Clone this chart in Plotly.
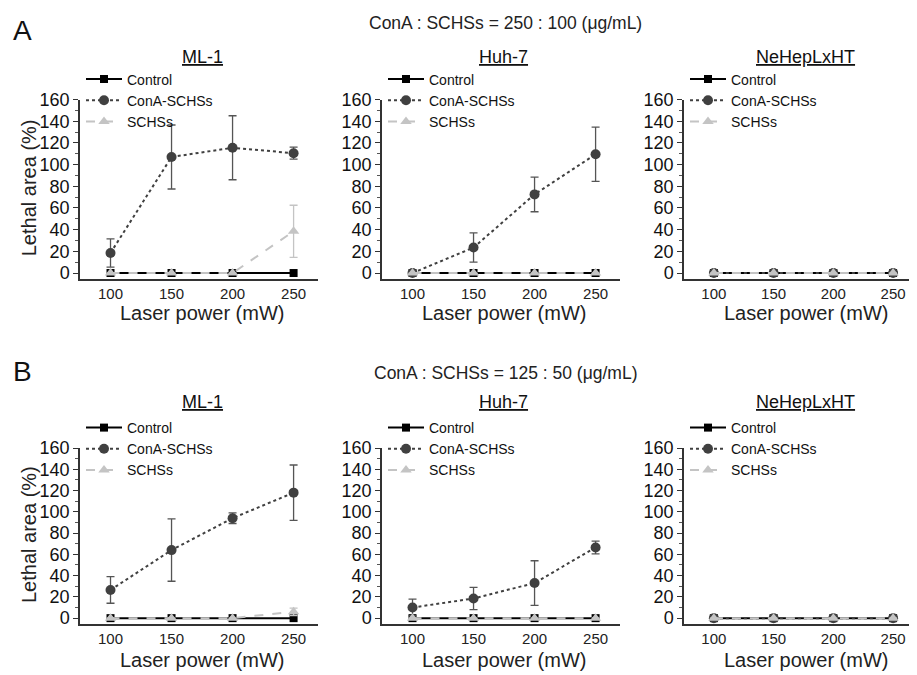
import plotly.graph_objects as go

W, H = 917, 675

laser_power = [100, 150, 200, 250]
series_names = ["Control", "ConA-SCHSs", "SCHSs"]
cell_lines = ["ML-1", "Huh-7", "NeHepLxHT"]
panel_letters = ["A", "B"]
conditions = ["ConA : SCHSs = 250 : 100 (μg/mL)", "ConA : SCHSs = 125 : 50 (μg/mL)"]
y_ticks = [0, 20, 40, 60, 80, 100, 120, 140, 160]

# Panel A (250:100)
A_ml1_control = [0, 0, 0, 0]
A_ml1_cona = [18.5, 107, 115.5, 110.5]
A_ml1_cona_err = [13, 29.5, 29.5, 5.5]
A_ml1_schs = [0, 0, 0, 38.5]
A_ml1_schs_err = [0, 0, 0, 24]

A_huh_control = [0, 0, 0, 0]
A_huh_cona = [0, 23.5, 72.5, 109.5]
A_huh_cona_err = [0, 13.5, 16, 25]
A_huh_schs = [0, 0, 0, 0]
A_huh_schs_err = [0, 0, 0, 0]

A_ne_control = [0, 0, 0, 0]
A_ne_cona = [0, 0, 0, 0]
A_ne_cona_err = [0, 0, 0, 0]
A_ne_schs = [0, 0, 0, 0]
A_ne_schs_err = [0, 0, 0, 0]

# Panel B (125:50)
B_ml1_control = [0, 0, 0, 0]
B_ml1_cona = [26.5, 64, 94, 118]
B_ml1_cona_err = [12.5, 29.3, 5, 26]
B_ml1_schs = [0, 0, 0, 6]
B_ml1_schs_err = [0, 0, 0, 3.5]

B_huh_control = [0, 0, 0, 0]
B_huh_cona = [10, 18.5, 33, 66.5]
B_huh_cona_err = [7.8, 10.4, 21, 6]
B_huh_schs = [0, 0, 0, 0]
B_huh_schs_err = [0, 0, 0, 0]

B_ne_control = [0, 0, 0, 0]
B_ne_cona = [0, 0, 0, 0]
B_ne_cona_err = [0, 0, 0, 0]
B_ne_schs = [0, 0, 0, 0]
B_ne_schs_err = [0, 0, 0, 0]

panels = [
    (A_ml1_control, A_ml1_cona, A_ml1_cona_err, A_ml1_schs, A_ml1_schs_err),
    (A_huh_control, A_huh_cona, A_huh_cona_err, A_huh_schs, A_huh_schs_err),
    (A_ne_control, A_ne_cona, A_ne_cona_err, A_ne_schs, A_ne_schs_err),
    (B_ml1_control, B_ml1_cona, B_ml1_cona_err, B_ml1_schs, B_ml1_schs_err),
    (B_huh_control, B_huh_cona, B_huh_cona_err, B_huh_schs, B_huh_schs_err),
    (B_ne_control, B_ne_cona, B_ne_cona_err, B_ne_schs, B_ne_schs_err),
]

FONT = "Liberation Sans, Arial, sans-serif"
OFF = 8  # page body margin offset
col_px = [(80, 318), (382, 620), (684, 917)]
row_px = [(99.5, 279), (448, 624)]  # top (y=160), bottom (axis line)
title_x = [202, 503, 805]
title_y = [57, 402]
letter_y = [31, 371]
cond_y = [23, 373]
xtitle_y = [313, 660]

def fx(px):
    return (px - OFF) / W

def fy(py):
    return (H - (py - OFF)) / H

fig = go.Figure()
layout = {}
annotations = []

for p, (ctrl, cona, cona_err, schs, schs_err) in enumerate(panels):
    r, c = divmod(p, 3)
    k = p + 1
    xa = "x" if k == 1 else f"x{k}"
    ya = "y" if k == 1 else f"y{k}"
    lg = "legend" if k == 1 else f"legend{k}"
    fig.add_trace(go.Scatter(
        x=laser_power, y=ctrl, name="Control", mode="lines+markers",
        line=dict(color="black", width=2),
        marker=dict(symbol="square", size=8, color="black"),
        xaxis=xa, yaxis=ya, legend=lg))
    fig.add_trace(go.Scatter(
        x=laser_power, y=cona, name="ConA-SCHSs", mode="lines+markers",
        line=dict(color="#404040", width=2, dash="dot"),
        marker=dict(symbol="circle", size=10, color="#404040"),
        error_y=dict(type="data", array=cona_err, color="#555555", thickness=1.3, width=4),
        xaxis=xa, yaxis=ya, legend=lg))
    fig.add_trace(go.Scatter(
        x=laser_power, y=schs, name="SCHSs", mode="lines+markers",
        line=dict(color="#c4c4c4", width=2, dash="dash"),
        marker=dict(symbol="triangle-up", size=10, color="#c4c4c4"),
        error_y=dict(type="data", array=schs_err, color="#c4c4c4", thickness=1.3, width=4),
        xaxis=xa, yaxis=ya, legend=lg))

    x0, x1 = col_px[c]
    ytop, ybot = row_px[r]
    layout[("xaxis" if k == 1 else f"xaxis{k}")] = dict(
        domain=[fx(x0), min(fx(x1), 1.0)], range=[75, 270], anchor=ya, automargin=False,
        tickvals=laser_power, ticks="", showgrid=False, zeroline=False,
        showline=True, linecolor="#333333", linewidth=1.5,
        tickfont=dict(family=FONT, size=15, color="#222"),
    )
    layout[("yaxis" if k == 1 else f"yaxis{k}")] = dict(
        domain=[fy(ybot), fy(ytop)], range=[-5.5, 160], anchor=xa, automargin=False,
        tickvals=y_ticks, ticks="outside", ticklen=5, tickwidth=1.2, tickcolor="#333",
        minor=dict(tickvals=[10, 30, 50, 70, 90, 110, 130, 150], ticks="outside", ticklen=3, tickcolor="#555"),
        showgrid=False, zeroline=False, showline=True, linecolor="#333333", linewidth=1.5,
        tickfont=dict(family=FONT, size=18, color="#111"),
    )
    if c == 0:
        annotations.append(dict(
            text="Lethal area (%)", textangle=-90, x=fx(29), y=fy((ytop + ybot) / 2 - 1),
            xref="paper", yref="paper", xanchor="center", yanchor="middle", showarrow=False,
            font=dict(family=FONT, size=20, color="#222")))
    annotations.append(dict(
        text="Laser power (mW)", x=fx(x0 + 122), y=fy(xtitle_y[r]),
        xref="paper", yref="paper", xanchor="center", yanchor="middle", showarrow=False,
        font=dict(family=FONT, size=20, color="#222")))

    layout[lg] = dict(
        x=fx(x0 + 1), y=fy(ytop - 36), xanchor="left", yanchor="top",
        bgcolor="rgba(0,0,0,0)", font=dict(family=FONT, size=14, color="#111"),
        tracegroupgap=0, itemwidth=36,
    )
    annotations.append(dict(
        text=f"<u>{cell_lines[c]}</u>", x=fx(title_x[c]), y=fy(title_y[r]),
        xref="paper", yref="paper", xanchor="center", yanchor="middle", showarrow=False,
        font=dict(family=FONT, size=18, color="#111")))

for r in range(2):
    annotations.append(dict(
        text=panel_letters[r], x=fx(22), y=fy(letter_y[r]), xref="paper", yref="paper",
        xanchor="center", yanchor="middle", showarrow=False,
        font=dict(family=FONT, size=28, color="#111")))
    annotations.append(dict(
        text=conditions[r], x=fx(505), y=fy(cond_y[r]), xref="paper", yref="paper",
        xanchor="center", yanchor="middle", showarrow=False,
        font=dict(family=FONT, size=17.5, color="#222")))

fig.update_layout(
    width=W, height=H, margin=dict(l=0, r=0, t=0, b=0),
    plot_bgcolor="white", paper_bgcolor="white",
    annotations=annotations, **layout)

fig.write_html("out.html")
